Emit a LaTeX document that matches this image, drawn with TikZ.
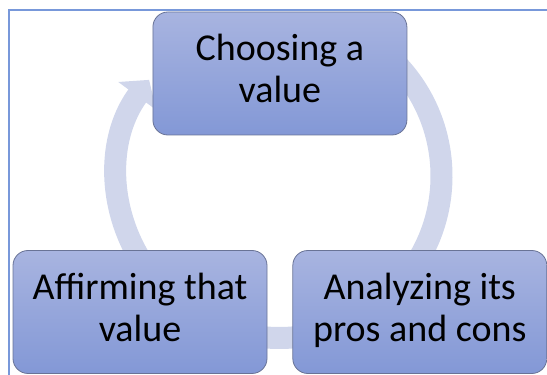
\documentclass[tikz,border=0pt]{standalone}
\usepackage{fontspec}
\setmainfont{Carlito}
\usepackage{tikz}
\usetikzlibrary{arrows.meta,calc,positioning}

\definecolor{stagetop}{RGB}{168,180,224}
\definecolor{stagebot}{RGB}{131,152,214}
\definecolor{stageline}{RGB}{105,115,150}
\definecolor{ringfill}{RGB}{208,214,235}
\definecolor{framecol}{RGB}{120,152,218}

\begin{document}
\begin{tikzpicture}[x=1pt, y=1pt,
    stage/.style={rectangle, rounded corners=15pt, draw=stageline, line width=0.8pt,
      top color=stagetop, bottom color=stagebot,
      minimum width=254pt, minimum height=123pt,
      align=center, font=\fontsize{38}{42}\selectfont},
    ring/.style={line width=22pt, draw=ringfill, -{Triangle[width=46pt,length=20pt]}},
    pageframe/.style={draw=framecol, line width=2pt}]

  \useasboundingbox (0,0) rectangle (547,375);
  \clip (0,0) rectangle (547,375);

  \draw [pageframe] (8.5,-5) |- (560,365);

  % the cycle band, running clockwise behind the three stages
  \coordinate (hub) at (279.5,199);
  \draw [ring] (hub) ++(50:162) arc [start angle=50, end angle=-216.4, radius=162];

  \node [stage] (affirm) at (140,63) {\strut Affirming that\\value\strut};
  \node [stage, right=25pt of affirm] (analyze) {\strut Analyzing its\\pros and cons\strut};
  \node [stage] (choose) at ($(affirm)!0.5!(analyze)+(0,238.5)$) {\strut Choosing a\\value\strut};

\end{tikzpicture}
\end{document}
